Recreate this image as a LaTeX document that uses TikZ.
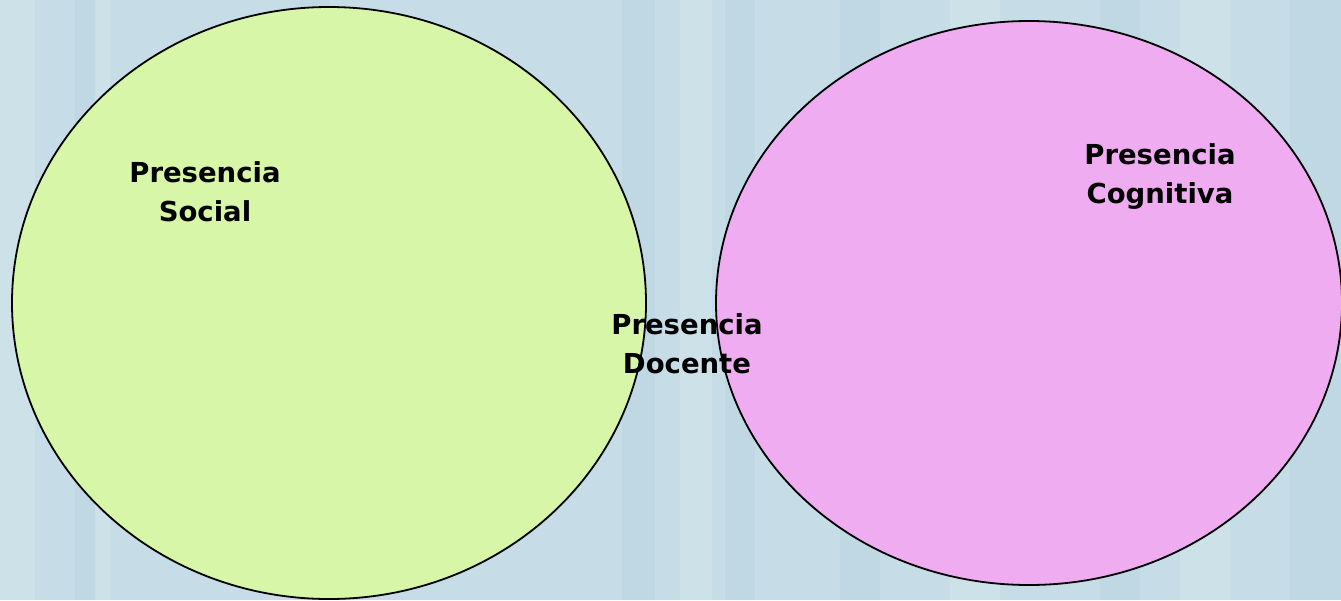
\documentclass[tikz,border=0pt]{standalone}
\usepackage{fontspec}
\setmainfont{DejaVu Sans}
\usetikzlibrary{shapes.geometric}
\definecolor{bgblue}{RGB}{198,220,230}
\definecolor{bgdark}{RGB}{192,216,227}
\definecolor{bglight}{RGB}{205,225,233}
\definecolor{socialgreen}{RGB}{215,246,168}
\definecolor{cognitpink}{RGB}{240,172,240}
\tikzset{
  presence/.style={draw=black, line width=1.8pt, ellipse, inner sep=0pt},
  label/.style={font=\fontsize{27.5}{39}\selectfont\bfseries, align=center, text=black}
}
\begin{document}
\begin{tikzpicture}[x=1pt, y=-1pt]
  % background with soft vertical stripes
  \fill[bgblue] (0,0) rectangle (1341,600);
  \useasboundingbox (0,0) rectangle (1341,600);
  \foreach \a/\b/\c in {0/35/bglight, 75/95/bgdark, 95/110/bglight, 300/330/bgdark,
                        622/655/bgdark, 680/712/bglight, 725/755/bgdark,
                        840/880/bgdark, 950/1000/bglight, 1100/1140/bgdark,
                        1180/1230/bglight, 1290/1341/bgdark} {
      \fill[\c] (\a,0) rectangle (\b,600);
  }

  \node[presence, fill=socialgreen, minimum width=634pt, minimum height=592pt] (social) at (329,303) {};
  \node[presence, fill=cognitpink, minimum width=626pt, minimum height=564pt] (cognitive) at (1029,303) {};

  \node[label] (socialtxt) at (205,192) {Presencia\\Social};
  \node[label] (cognitxt) at (1160,177) {Presencia\\Cognitiva};
  \node[label] (docentetxt) at (687,344) {Presencia\\Docente};
\end{tikzpicture}
\end{document}
